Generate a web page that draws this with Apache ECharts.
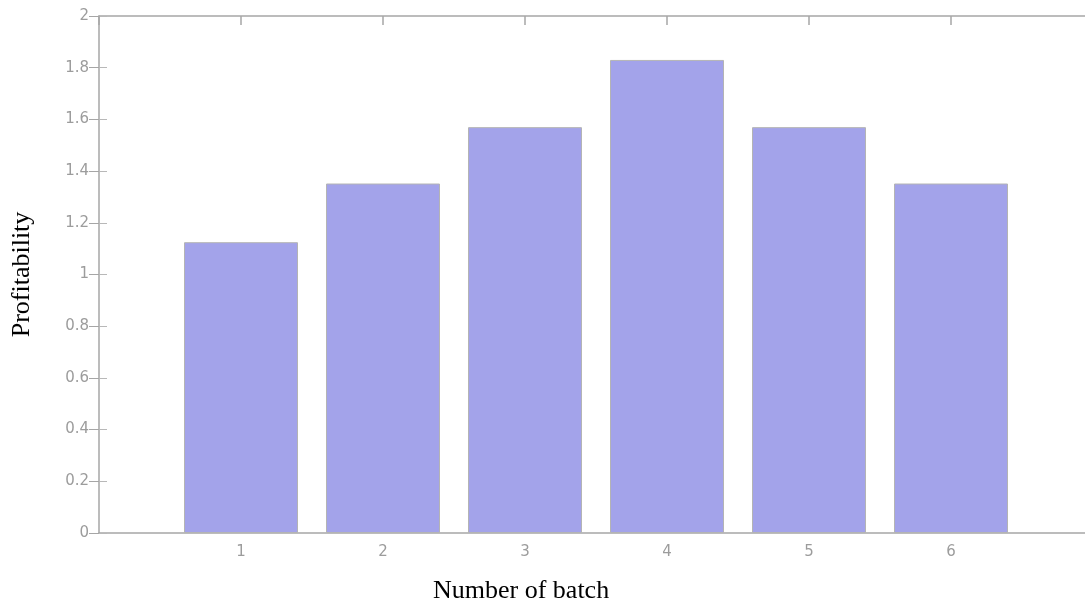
<!DOCTYPE html>
<html>
<head>
<meta charset="utf-8">
<script src="https://cdn.jsdelivr.net/npm/echarts@6/dist/echarts.min.js"></script>
<style>
html,body{margin:0;padding:0;background:#fff;}
#chart{width:1085px;height:603px;}
</style>
</head>
<body>
<div id="chart"></div>
<script>
var categories = [1, 2, 3, 4, 5, 6];
var profitability = [1.125, 1.352, 1.57, 1.83, 1.57, 1.352];
var yTicks = [0, 0.2, 0.4, 0.6, 0.8, 1, 1.2, 1.4, 1.6, 1.8, 2];
var xTitle = 'Number of batch';
var yTitle = 'Profitability';

var chart = echarts.init(document.getElementById('chart'), null, {renderer: 'canvas'});
var axisGray = '#a6a6a6';
var tickGray = '#b8b8b8';
var labelGray = '#9c9c9c';
var data = categories.map(function (c, i) { return [c, profitability[i]]; });
var tickFont = 'DejaVu Sans, Verdana, sans-serif';

var option = {
  backgroundColor: '#ffffff',
  animation: false,
  grid: {left: 99, top: 16, width: 994, height: 517, containLabel: false, outerBoundsMode: 'none'},
  xAxis: [
    {
      type: 'value', position: 'bottom', min: 0, max: categories.length + 1, interval: 1,
      axisLine: {show: true, lineStyle: {color: axisGray, width: 1.5}},
      axisTick: {show: false},
      splitLine: {show: false},
      axisLabel: {
        color: labelGray, fontSize: 15, fontFamily: tickFont, margin: 12,
        formatter: function (v) { return categories.indexOf(v) >= 0 ? String(v) : ''; }
      }
    },
    {
      type: 'value', position: 'top', min: 0, max: categories.length + 1, interval: 1,
      axisLine: {show: true, onZero: false, lineStyle: {color: axisGray, width: 1.5}},
      axisTick: {show: true, inside: true, length: 9, lineStyle: {color: axisGray, width: 1.5}},
      splitLine: {show: false},
      axisLabel: {show: false}
    }
  ],
  yAxis: [
    {
      type: 'value', position: 'left', min: 0, max: 2, interval: 0.2,
      axisLine: {show: true, onZero: false, lineStyle: {color: axisGray, width: 1.5}},
      axisTick: {show: true, inside: true, length: 8, lineStyle: {color: tickGray, width: 1}},
      splitLine: {show: false},
      axisLabel: {
        color: labelGray, fontSize: 15, fontFamily: tickFont, margin: 10,
        formatter: function (v) { var r = Math.round(v * 10) / 10; return yTicks.indexOf(r) >= 0 ? String(r) : ''; }
      },
      name: yTitle, nameLocation: 'middle', nameGap: 64, nameRotate: 90,
      nameTextStyle: {color: '#000', fontSize: 26, fontFamily: 'Liberation Serif, Times New Roman, serif'}
    },
    {
      type: 'value', position: 'right', min: 0, max: 2, interval: 0.2,
      axisLine: {show: false},
      axisTick: {show: true, inside: true, length: 10, lineStyle: {color: axisGray, width: 1}},
      splitLine: {show: false},
      axisLabel: {show: false}
    }
  ],
  graphic: [
    {
      type: 'text', left: 433, top: 578,
      style: {text: xTitle, fill: '#000', fontSize: 26, fontFamily: 'Liberation Serif, Times New Roman, serif'}
    }
  ],
  series: [
    {
      type: 'bar', xAxisIndex: 0, yAxisIndex: 0,
      data: data, barWidth: 114,
      itemStyle: {color: '#a3a3ea', borderColor: '#b4b4b4', borderWidth: 1}
    }
  ]
};
chart.setOption(option);
</script>
</body>
</html>
